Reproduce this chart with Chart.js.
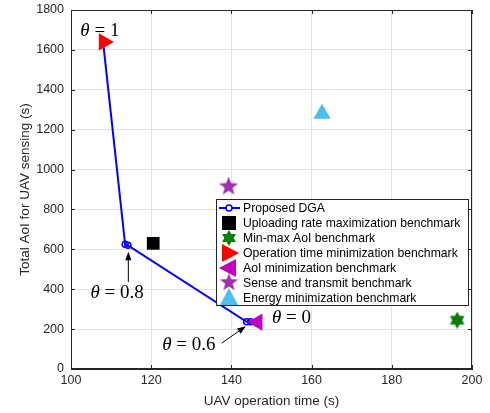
<!DOCTYPE html>
<html>
<head>
<meta charset="utf-8">
<script src="https://cdn.jsdelivr.net/npm/chart.js@4.4.1/dist/chart.umd.min.js"></script>
<style>
  html, body { margin: 0; padding: 0; background: #fff; }
  #wrap { width: 490px; height: 413px; }
</style>
</head>
<body>
<div id="wrap"><canvas id="tradeoff"></canvas></div>
<script>
// Proposed DGA curve (theta from 1 down to 0)
const dgaTime = [108.0, 113.5, 114.2, 143.8, 144.8]
const dgaAoI = [1640, 625, 620, 237, 237]

// benchmarks: [operation time, total AoI]
const uploadPt = [120.5, 630]
const minmaxPt = [196.3, 245]
const opTimePt = [108.2, 1640]
const aoiMinPt = [146.5, 235]
const senseTxPt = [139.3, 915]
const energyPt = [162.6, 1280]

const seriesLabels = [
    'Proposed DGA',
    'Uploading rate maximization benchmark',
    'Min-max AoI benchmark',
    'Operation time minimization benchmark',
    'AoI minimization benchmark',
    'Sense and transmit benchmark',
    'Energy minimization benchmark'
]

const xTicks = [100, 120, 140, 160, 180, 200]
const yTicks = [0, 200, 400, 600, 800, 1000, 1200, 1400, 1600, 1800]

// theta labels: text value, label centre, optional arrow tail/head
const thetaNotes = [
    { val: '1', at: [107.2, 1695] },
    { val: '0.8', at: [111.5, 380], from: [114.3, 436], to: [114.3, 588] },
    { val: '0.6', at: [129.4, 120], from: [137.6, 130], to: [143.6, 214] },
    { val: '0', at: [155.0, 256] }
]

// custom filled star shapes for point styles
const starCanvas = (points, size, color, innerRatio) => {
    const c = document.createElement('canvas')
    c.width = size; c.height = size
    const g = c.getContext('2d')
    const r = size / 2, ri = r * innerRatio
    g.beginPath()
    for (let i = 0; i < points * 2; i++) {
        const rr = i % 2 === 0 ? r : ri
        const a = -Math.PI / 2 + i * Math.PI / points
        const px = r + rr * Math.cos(a), py = r + rr * Math.sin(a)
        if (i === 0) g.moveTo(px, py); else g.lineTo(px, py)
    }
    g.closePath()
    g.fillStyle = color
    g.fill()
    return c
}
const hexagram = starCanvas(6, 17, '#007f00', 0.577)
const pentagram = starCanvas(5, 20, '#9e2fb0', 0.42)
const hexagramSmall = starCanvas(6, 16, '#007f00', 0.577)
const pentagramSmall = starCanvas(5, 19, '#9e2fb0', 0.42)

const pt = (p) => [{ x: p[0], y: p[1] }]

const frame = {
    id: 'frame',
    afterDatasetsDraw(chart) {
        const { ctx, chartArea: a, scales } = chart
        ctx.save()
        ctx.strokeStyle = '#262626'
        ctx.lineWidth = 1
        ctx.strokeRect(a.left + 0.5, a.top + 0.5, a.right - a.left - 1, a.bottom - a.top - 1)
        // inner tick marks
        xTicks.forEach(v => {
            const x = Math.round(scales.x.getPixelForValue(v)) + 0.5
            ctx.beginPath()
            ctx.moveTo(x, a.bottom); ctx.lineTo(x, a.bottom - 4)
            ctx.moveTo(x, a.top); ctx.lineTo(x, a.top + 4)
            ctx.stroke()
        })
        yTicks.forEach(v => {
            const y = Math.round(scales.y.getPixelForValue(v)) + 0.5
            ctx.beginPath()
            ctx.moveTo(a.left, y); ctx.lineTo(a.left + 4, y)
            ctx.moveTo(a.right, y); ctx.lineTo(a.right - 4, y)
            ctx.stroke()
        })

        // theta annotations
        ctx.fillStyle = '#000'
        ctx.strokeStyle = '#000'
        thetaNotes.forEach(n => {
            const cx = scales.x.getPixelForValue(n.at[0])
            const cy = scales.y.getPixelForValue(n.at[1])
            const ital = 'italic 19px "Liberation Serif"'
            const rom = '19px "Liberation Serif"'
            ctx.font = ital
            const w1 = ctx.measureText('\u03b8').width
            ctx.font = rom
            const rest = ' = ' + n.val
            const w2 = ctx.measureText(rest).width
            let x0 = cx - (w1 + w2) / 2
            ctx.textBaseline = 'middle'
            ctx.textAlign = 'left'
            ctx.font = ital
            ctx.fillText('\u03b8', x0, cy)
            ctx.font = rom
            ctx.fillText(rest, x0 + w1, cy)
            if (n.from) {
                const x1 = scales.x.getPixelForValue(n.from[0]), y1 = scales.y.getPixelForValue(n.from[1])
                const x2 = scales.x.getPixelForValue(n.to[0]), y2 = scales.y.getPixelForValue(n.to[1])
                const ang = Math.atan2(y2 - y1, x2 - x1)
                ctx.lineWidth = 1
                ctx.beginPath()
                ctx.moveTo(x1, y1); ctx.lineTo(x2 - 6 * Math.cos(ang), y2 - 6 * Math.sin(ang))
                ctx.stroke()
                ctx.beginPath()
                ctx.moveTo(x2, y2)
                ctx.lineTo(x2 - 9 * Math.cos(ang - 0.35), y2 - 9 * Math.sin(ang - 0.35))
                ctx.lineTo(x2 - 9 * Math.cos(ang + 0.35), y2 - 9 * Math.sin(ang + 0.35))
                ctx.closePath()
                ctx.fill()
            }
        })

        // legend box inside the axes
        const lx = 216, ly = 199, lw = 252, lh = 106, row = 15
        ctx.fillStyle = '#fff'
        ctx.fillRect(lx, ly, lw, lh)
        ctx.strokeStyle = '#262626'
        ctx.strokeRect(lx + 0.5, ly + 0.5, lw, lh)
        ctx.font = '12.2px "Liberation Sans"'
        ctx.textAlign = 'left'
        ctx.textBaseline = 'middle'
        const mx = 229
        seriesLabels.forEach((lab, i) => {
            const y = ly + 9 + i * row
            const ds = chart.data.datasets[i]
            ctx.save()
            if (i === 0) {
                ctx.strokeStyle = ds.borderColor
                ctx.lineWidth = 2
                ctx.beginPath(); ctx.moveTo(219, y); ctx.lineTo(240, y); ctx.stroke()
                ctx.fillStyle = '#fff'
                ctx.lineWidth = 1.5
                ctx.beginPath(); ctx.arc(mx, y, 3, 0, Math.PI * 2); ctx.fill(); ctx.stroke()
            } else {
                const st = ds.legendStyle
                ctx.fillStyle = ds.backgroundColor
                if (st === 'rect') {
                    ctx.fillRect(mx - 7, y - 7, 14, 14)
                } else if (st === 'hex') {
                    ctx.drawImage(hexagramSmall, mx - 8, y - 8)
                } else if (st === 'pent') {
                    ctx.drawImage(pentagramSmall, mx - 9.5, y - 10)
                } else {
                    const rot = ds.pointRotation * Math.PI / 180
                    ctx.translate(mx, y); ctx.rotate(rot)
                    ctx.beginPath()
                    ctx.moveTo(0, -10); ctx.lineTo(9, 7); ctx.lineTo(-9, 7); ctx.closePath()
                    ctx.fill()
                }
            }
            ctx.restore()
            ctx.fillStyle = '#000'
            ctx.fillText(lab, 243, y + 1)
        })
        ctx.restore()
    }
}

const ctx = document.getElementById('tradeoff')
const tradeoffChart = new Chart(ctx, {
    type: 'scatter',
    data: {
        datasets: [{
            label: seriesLabels[0],
            data: dgaTime.map((t, i) => ({ x: t, y: dgaAoI[i] })),
            showLine: true,
            borderColor: '#0000ff',
            backgroundColor: 'rgba(255,255,255,0)',
            borderWidth: 2,
            pointRadius: 3,
            pointBorderWidth: 1.5,
            pointBorderColor: '#0000ff',
            tension: 0,
            order: 10
        }, {
            label: seriesLabels[1],
            data: pt(uploadPt),
            pointStyle: 'rect',
            legendStyle: 'rect',
            pointRadius: 9,
            backgroundColor: '#000',
            borderColor: '#000',
            borderWidth: 0
        }, {
            label: seriesLabels[2],
            data: pt(minmaxPt),
            pointStyle: hexagram,
            legendStyle: 'hex',
            backgroundColor: '#007f00'
        }, {
            label: seriesLabels[3],
            data: pt(opTimePt),
            pointStyle: 'triangle',
            pointRotation: 90,
            pointRadius: 10,
            backgroundColor: '#ff0000',
            borderColor: '#ff0000',
            borderWidth: 0
        }, {
            label: seriesLabels[4],
            data: pt(aoiMinPt),
            pointStyle: 'triangle',
            pointRotation: -90,
            pointRadius: 10,
            backgroundColor: '#bf00bf',
            borderColor: '#bf00bf',
            borderWidth: 0
        }, {
            label: seriesLabels[5],
            data: pt(senseTxPt),
            pointStyle: pentagram,
            legendStyle: 'pent',
            backgroundColor: '#9e2fb0'
        }, {
            label: seriesLabels[6],
            data: pt(energyPt),
            pointStyle: 'triangle',
            pointRotation: 0,
            pointRadius: 10,
            backgroundColor: '#4dbeee',
            borderColor: '#4dbeee',
            borderWidth: 0
        }]
    },
    options: {
        responsive: true,
        maintainAspectRatio: false,
        animation: false,
        layout: { padding: { top: 9, right: 18, left: 13, bottom: 0 } },
        plugins: {
            legend: { display: false },
            tooltip: { enabled: false }
        },
        scales: {
            x: {
                type: 'linear',
                min: 100, max: 200,
                afterBuildTicks: (s) => { s.ticks = xTicks.map(v => ({ value: v })) },
                afterFit: (s) => { s.height = 44; s.paddingLeft = 0; s.paddingRight = 0 },
                grid: { color: '#e3e3e3', drawTicks: false },
                border: { color: '#262626' },
                ticks: { color: '#262626', font: { family: 'Liberation Sans', size: 12.5 }, padding: 4 },
                title: { display: true, text: 'UAV operation time (s)', color: '#262626', font: { family: 'Liberation Sans', size: 13.5 }, padding: { top: 1 } }
            },
            y: {
                type: 'linear',
                min: 0, max: 1800,
                afterBuildTicks: (s) => { s.ticks = yTicks.map(v => ({ value: v })) },
                afterFit: (s) => { s.width = 58; s.paddingTop = 0; s.paddingBottom = 0 },
                grid: { color: '#e3e3e3', drawTicks: false },
                border: { color: '#262626' },
                ticks: { color: '#262626', font: { family: 'Liberation Sans', size: 12.5 }, padding: 7, callback: (v) => String(v) },
                title: { display: true, text: 'Total AoI for UAV sensing (s)', color: '#262626', font: { family: 'Liberation Sans', size: 13.5 }, padding: { bottom: 2 } }
            }
        }
    },
    plugins: [frame]
})
</script>
</body>
</html>
